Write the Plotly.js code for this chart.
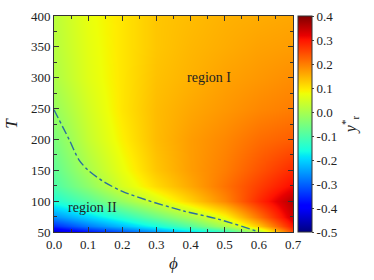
<!DOCTYPE html>
<html>
<head>
<meta charset="utf-8">
<script src="https://cdn.plot.ly/plotly-3.0.1.min.js"></script>
<style>html,body{margin:0;padding:0;background:#fff;}#chart{width:374px;height:280px;}</style>
</head>
<body>
<div id="chart"></div>
<script>
// volume fraction phi (x) and temperature T (y)
const phiValues = [0, 0.1, 0.2, 0.3, 0.4, 0.5, 0.6, 0.7];
const tempValues = [50, 60, 75, 100, 125, 150, 200, 250, 300, 350, 400];
// y_r^*, one row per temperature
const yrT50  = [-0.45, -0.38, -0.32, -0.26, -0.20, -0.14, 0.00, 0.25];
const yrT60  = [-0.35, -0.28, -0.22, -0.16, -0.09, 0.00, 0.13, 0.30];
const yrT75  = [-0.26, -0.20, -0.14, -0.07, 0.00, 0.08, 0.21, 0.34];
const yrT100 = [-0.15, -0.09, -0.02, 0.05, 0.12, 0.19, 0.28, 0.36];
const yrT125 = [-0.10, -0.03, 0.05, 0.11, 0.16, 0.21, 0.26, 0.31];
const yrT150 = [-0.08, 0.00, 0.07, 0.13, 0.17, 0.20, 0.24, 0.28];
const yrT200 = [-0.05, 0.03, 0.09, 0.14, 0.17, 0.19, 0.215, 0.23];
const yrT250 = [-0.02, 0.045, 0.10, 0.14, 0.16, 0.175, 0.19, 0.20];
const yrT300 = [0.005, 0.06, 0.10, 0.135, 0.15, 0.165, 0.175, 0.185];
const yrT350 = [0.015, 0.065, 0.10, 0.13, 0.145, 0.155, 0.165, 0.17];
const yrT400 = [0.02, 0.07, 0.10, 0.13, 0.14, 0.15, 0.155, 0.16];
// boundary curve (dash-dot)
const boundaryPhi = [0, 0.045, 0.073, 0.1, 0.15, 0.2, 0.27, 0.38, 0.48, 0.59, 0.6];
const boundaryT   = [248, 199, 167, 150, 130, 116, 102, 84, 71, 52, 50];
// colour bar ticks
const cbTickVals = [-0.5, -0.4, -0.3, -0.2, -0.1, 0.0, 0.1, 0.2, 0.3, 0.4];
const cbTickText = ['-0.5', '-0.4', '-0.3', '-0.2', '-0.1', '0.0', '0.1', '0.2', '0.3', '0.4'];
const regionLabels = ['region I', 'region II'];
const regionPhi = [0.454, 0.112];
const regionT = [300, 90];

const zGrid = [yrT50, yrT60, yrT75, yrT100, yrT125, yrT150, yrT200, yrT250, yrT300, yrT350, yrT400];

const jet = [
  [0, 'rgb(0,0,128)'], [0.11, 'rgb(0,0,255)'], [0.125, 'rgb(0,0,255)'],
  [0.34, 'rgb(0,219,255)'], [0.35, 'rgb(0,230,247)'], [0.375, 'rgb(20,255,226)'],
  [0.64, 'rgb(238,255,8)'], [0.65, 'rgb(247,246,0)'], [0.66, 'rgb(255,236,0)'],
  [0.89, 'rgb(255,19,0)'], [0.91, 'rgb(232,0,0)'], [1, 'rgb(128,0,0)']
];

const serif = 'Liberation Serif, DejaVu Serif, serif';

const traces = [
  {
    type: 'heatmap', x: phiValues, y: tempValues, z: zGrid,
    zsmooth: 'best', colorscale: jet, zmin: -0.5, zmax: 0.4,
    colorbar: {
      x: 1.02, xanchor: 'left', xpad: 0, y: 0.5, yanchor: 'middle', ypad: 0,
      len: 1, lenmode: 'fraction', thickness: 14, outlinewidth: 1, outlinecolor: '#333',
      tickvals: cbTickVals, ticktext: cbTickText, ticks: 'outside', ticklen: 2,
      tickfont: {family: serif, size: 13, color: '#222'},
      title: {text: '<i>y</i><sup>*</sup><sub>r</sub>', side: 'right', font: {family: serif, size: 16, color: '#222'}}
    },
    hoverinfo: 'skip'
  },
  {
    type: 'scatter', mode: 'lines', x: boundaryPhi, y: boundaryT,
    line: {color: '#2a6f9e', width: 1.4, dash: 'dashdot', shape: 'spline', smoothing: 0.8}, showlegend: false
  }
];

const axisCommon = {
  showline: true, linecolor: '#333', linewidth: 1, mirror: 'allticks',
  ticks: 'inside', ticklen: 5, tickcolor: '#333', tickwidth: 1,
  showgrid: false, zeroline: false,
  tickfont: {family: serif, size: 13, color: '#222'}
};

const layout = {
  width: 374, height: 280,
  margin: {l: 54, r: 70, t: 16, b: 48},
  paper_bgcolor: '#fff', plot_bgcolor: '#fff',
  showlegend: false,
  xaxis: Object.assign({}, axisCommon, {
    range: [0, 0.7], tickvals: [0, 0.1, 0.2, 0.3, 0.4, 0.5, 0.6, 0.7], tickformat: '.1f',
    minor: {dtick: 0.05, tick0: 0, ticks: 'inside', ticklen: 3, tickcolor: '#333'},
    title: {text: '<i>ϕ</i>', font: {family: serif, size: 17, color: '#222'}, standoff: 6}
  }),
  yaxis: Object.assign({}, axisCommon, {
    range: [50, 400], tickvals: [50, 100, 150, 200, 250, 300, 350, 400],
    minor: {dtick: 25, tick0: 0, ticks: 'inside', ticklen: 3, tickcolor: '#333'},
    title: {text: '<i>T</i>', font: {family: serif, size: 17, color: '#222'}, standoff: 8}
  }),
  annotations: regionLabels.map((t, i) => ({
    x: regionPhi[i], y: regionT[i], xref: 'x', yref: 'y', text: t, showarrow: false,
    font: {family: serif, size: 14, color: '#222'}
  }))
};

Plotly.newPlot('chart', traces, layout, {displayModeBar: false, staticPlot: true});
</script>
</body>
</html>
